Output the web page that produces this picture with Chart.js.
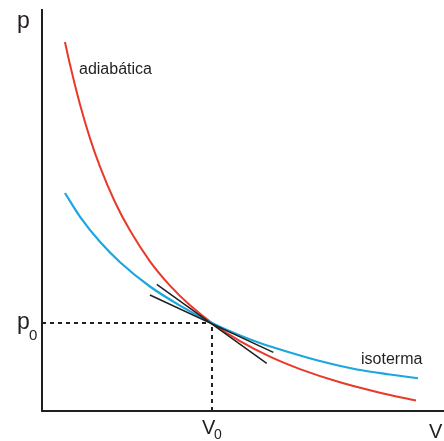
<!DOCTYPE html>
<html>
<head>
<meta charset="utf-8">
<script src="https://cdn.jsdelivr.net/npm/chart.js@4"></script>
<style>
  html, body { margin: 0; padding: 0; background: #fff; }
  #wrap { width: 444px; height: 441px; }
</style>
</head>
<body>
<div id="wrap"><canvas id="pv"></canvas></div>
<script>
// valores (V0 = 1, p0 = 1)
const V0 = 1;
const p0 = 1;

const adiabaticaV = [0.135, 0.165, 0.224, 0.282, 0.341, 0.429, 0.518, 0.635, 0.753, 0.871, 1.0, 1.165, 1.341, 1.518, 1.753, 1.988, 2.2];
const adiabaticaP = [4.193, 3.934, 3.480, 3.101, 2.776, 2.375, 2.050, 1.701, 1.425, 1.201, 1.0, 0.793, 0.617, 0.476, 0.326, 0.208, 0.119];

const isotermaV = [0.135, 0.224, 0.341, 0.459, 0.635, 0.812, 1.0, 1.165, 1.282, 1.459, 1.635, 1.853, 2.047, 2.212];
const isotermaP = [2.477, 2.207, 1.923, 1.691, 1.415, 1.198, 1.0, 0.858, 0.773, 0.665, 0.568, 0.472, 0.415, 0.372];

// tangentes no ponto (V0, p0)
const tangAdiabV = [0.675, 1.322];
const tangAdiabP = [1.440, 0.542];
const tangIsoV = [0.635, 1.361];
const tangIsoP = [1.318, 0.667];

const eixoVmax = 2.365;
const eixoPmax = 4.557;

const INK = '#231f20';
const pts = (xs, ys) => xs.map((x, i) => ({ x: x, y: ys[i] }));

const textos = {
    id: 'textos',
    afterDraw(chart) {
        const c = chart.ctx;
        c.save();
        c.fillStyle = INK;
        c.textBaseline = 'alphabetic';
        c.textAlign = 'left';
        c.font = '23px "Liberation Sans", Arial, sans-serif';
        c.fillText('p', 17, 28);
        c.fillText('p', 17, 329);
        c.font = '15px "Liberation Sans", Arial, sans-serif';
        c.fillText('0', 29, 340);
        c.font = '20px "Liberation Sans", Arial, sans-serif';
        c.fillText('V', 202, 434);
        c.fillText('V', 429, 438);
        c.font = '14px "Liberation Sans", Arial, sans-serif';
        c.fillText('0', 214, 439);
        c.font = '16px "Liberation Sans", Arial, sans-serif';
        c.fillText('adiabática', 79, 74);
        c.fillText('isoterma', 361, 364);
        c.restore();
    }
};

new Chart(document.getElementById('pv'), {
    type: 'scatter',
    data: {
        datasets: [
            {
                data: pts(tangAdiabV, tangAdiabP),
                showLine: true, borderColor: INK, borderWidth: 1.5, pointRadius: 0
            },
            {
                data: pts(tangIsoV, tangIsoP),
                showLine: true, borderColor: INK, borderWidth: 1.5, pointRadius: 0
            },
            {
                data: pts(isotermaV, isotermaP),
                showLine: true, borderColor: '#1ba7e0', borderWidth: 2.2, pointRadius: 0,
                cubicInterpolationMode: 'monotone'
            },
            {
                data: pts(adiabaticaV, adiabaticaP),
                showLine: true, borderColor: '#e8392a', borderWidth: 2, pointRadius: 0,
                cubicInterpolationMode: 'monotone'
            },
            {
                data: [{ x: 0, y: p0 }, { x: V0, y: p0 }],
                showLine: true, borderColor: INK, borderWidth: 2, borderDash: [4, 4], pointRadius: 0
            },
            {
                data: [{ x: V0, y: 0 }, { x: V0, y: p0 }],
                showLine: true, borderColor: INK, borderWidth: 2, borderDash: [4, 4], pointRadius: 0
            }
        ]
    },
    options: {
        responsive: true,
        maintainAspectRatio: false,
        animation: false,
        layout: { padding: { left: 42, top: 10, right: 0, bottom: 30 } },
        plugins: {
            legend: { display: false },
            tooltip: { enabled: false }
        },
        scales: {
            x: {
                min: 0, max: eixoVmax,
                ticks: { display: false },
                grid: { display: false },
                border: { display: true, color: INK, width: 2 },
                afterFit: (s) => { s.height = 0; }
            },
            y: {
                min: 0, max: eixoPmax,
                ticks: { display: false },
                grid: { display: false },
                border: { display: true, color: INK, width: 2 },
                afterFit: (s) => { s.width = 0; }
            }
        }
    },
    plugins: [textos]
});
</script>
</body>
</html>
